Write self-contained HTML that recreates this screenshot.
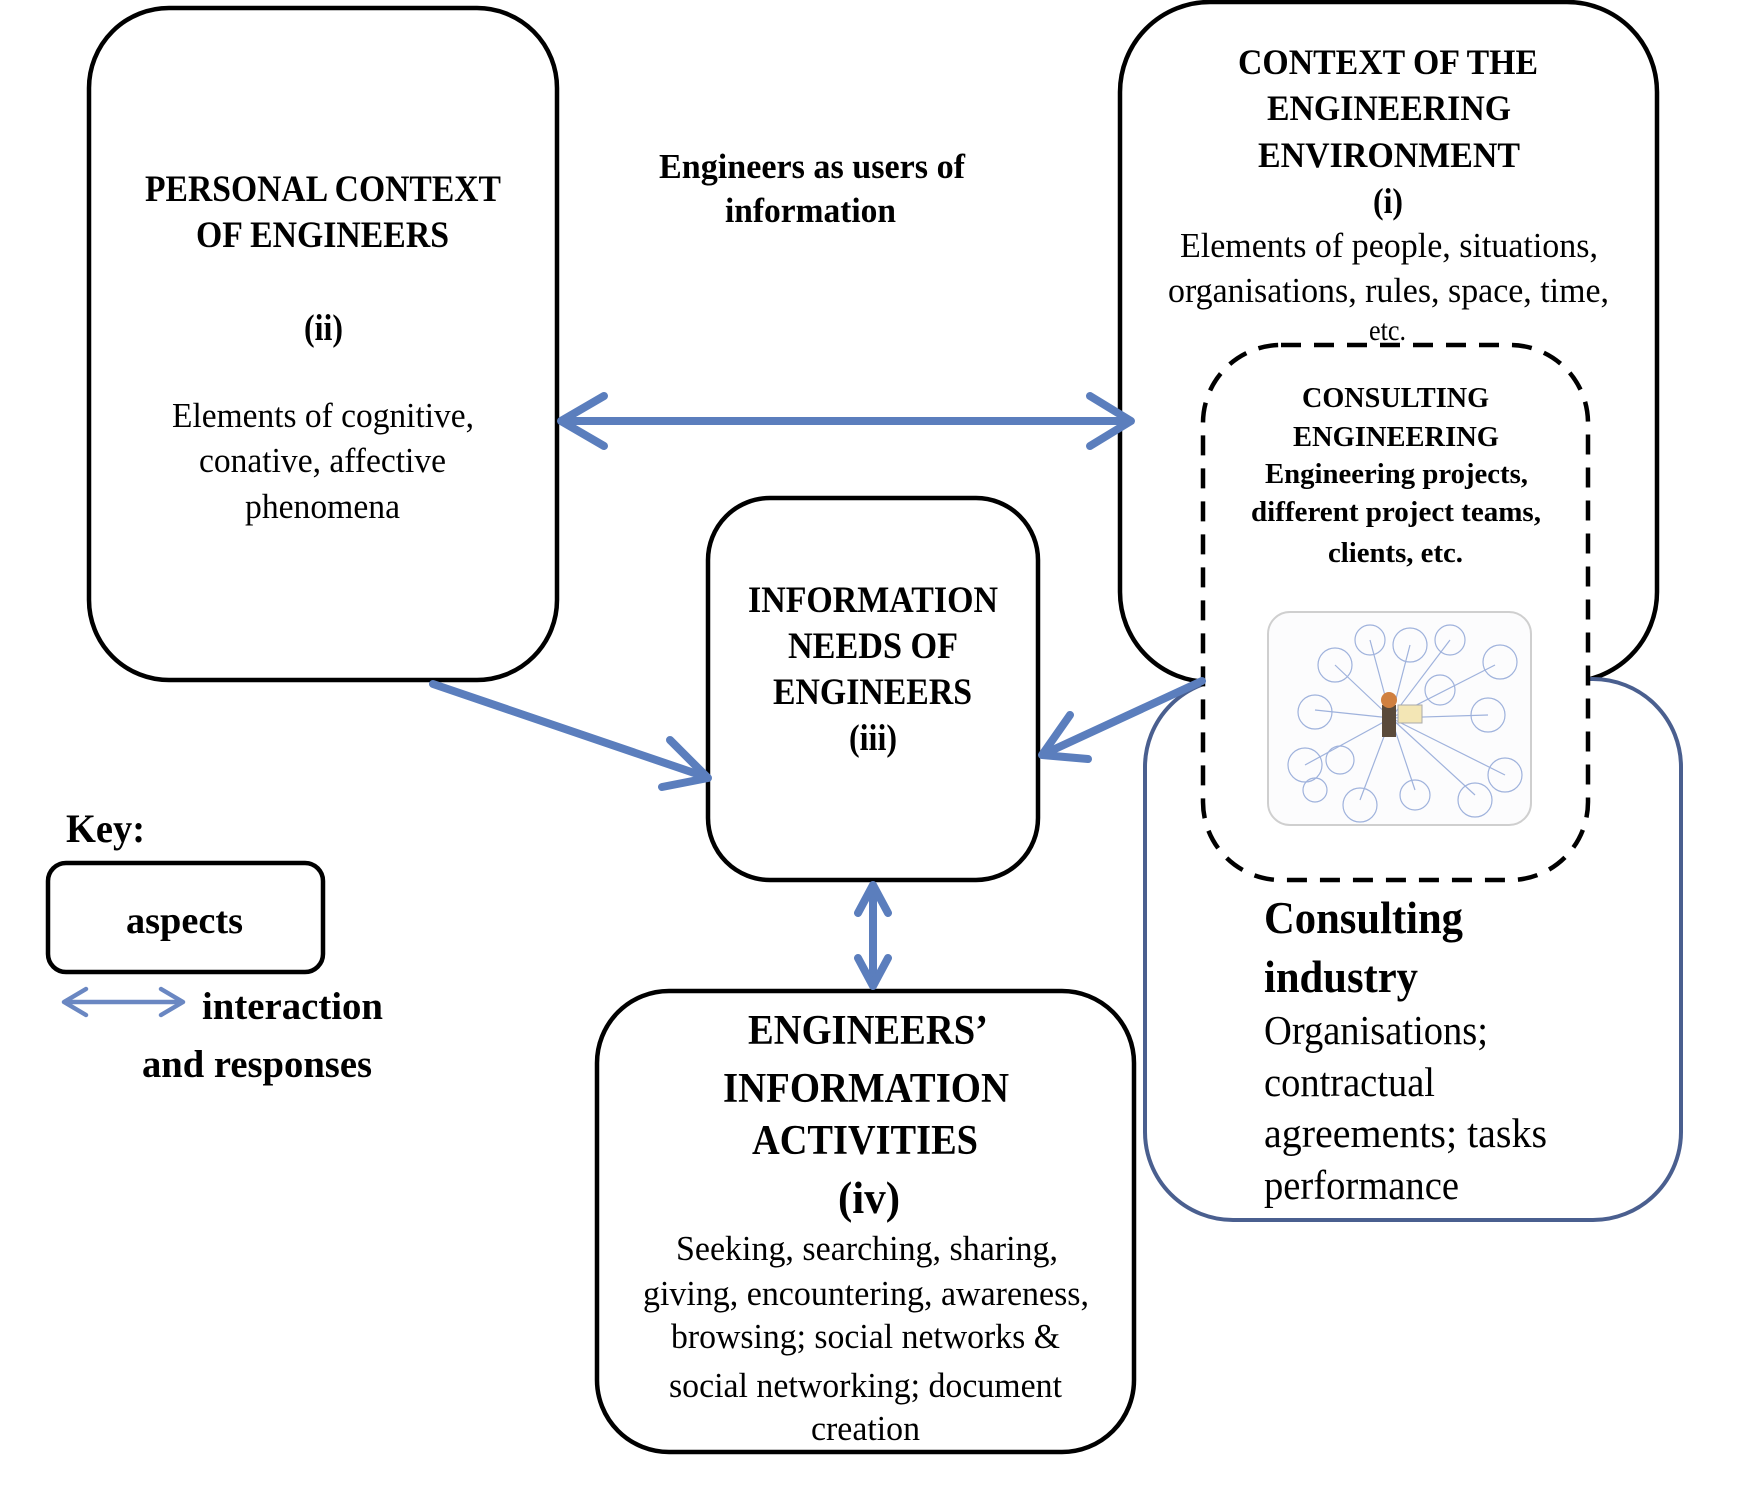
<!DOCTYPE html>
<html><head><meta charset="utf-8"><style>
html,body{margin:0;padding:0;background:#fff;}
svg{display:block;}
text{font-family:"Liberation Serif",serif;fill:#000;}
.b{font-weight:bold;}
</style></head><body>
<svg width="1745" height="1504" viewBox="0 0 1745 1504" xmlns="http://www.w3.org/2000/svg">
<!-- boxes -->
<rect x="89" y="8" width="468" height="672" rx="80" fill="#fff" stroke="#000" stroke-width="4.5"/>
<rect x="1120" y="2" width="537" height="680" rx="90" fill="#fff" stroke="#000" stroke-width="4.5"/>
<rect x="1145" y="679" width="536" height="541" rx="88" fill="#fff" stroke="#4a5f8f" stroke-width="4"/>
<rect x="1203" y="345" width="385" height="535" rx="78" fill="#fff" stroke="#000" stroke-width="4.5" stroke-dasharray="20,13"/>
<rect x="708" y="498" width="330" height="382" rx="62" fill="#fff" stroke="#000" stroke-width="4.5"/>
<rect x="597" y="991" width="537" height="461" rx="72" fill="#fff" stroke="#000" stroke-width="4.5"/>
<rect x="48" y="863" width="275" height="109" rx="18" fill="#fff" stroke="#000" stroke-width="4.5"/>

<!-- network image -->
<rect x="1268" y="612" width="263" height="213" rx="22" fill="#fcfcfd" stroke="#cfcfcf" stroke-width="2"/>
<g stroke="#9fb2dc" stroke-width="1.2" fill="none">
<line x1="1391" y1="718" x2="1335" y2="665"/><line x1="1391" y1="718" x2="1370" y2="640"/>
<line x1="1391" y1="718" x2="1410" y2="645"/><line x1="1391" y1="718" x2="1450" y2="640"/>
<line x1="1391" y1="718" x2="1495" y2="665"/><line x1="1391" y1="718" x2="1488" y2="715"/>
<line x1="1391" y1="718" x2="1505" y2="775"/><line x1="1391" y1="718" x2="1475" y2="795"/>
<line x1="1391" y1="718" x2="1415" y2="790"/><line x1="1391" y1="718" x2="1360" y2="800"/>
<line x1="1391" y1="718" x2="1305" y2="765"/><line x1="1391" y1="718" x2="1315" y2="710"/>
<circle cx="1335" cy="665" r="17"/><circle cx="1370" cy="640" r="15"/><circle cx="1410" cy="645" r="17"/>
<circle cx="1450" cy="640" r="15"/><circle cx="1500" cy="662" r="17"/><circle cx="1488" cy="715" r="17"/>
<circle cx="1505" cy="775" r="17"/><circle cx="1475" cy="800" r="17"/><circle cx="1415" cy="795" r="15"/>
<circle cx="1360" cy="805" r="17"/><circle cx="1305" cy="765" r="17"/><circle cx="1315" cy="712" r="17"/>
<circle cx="1315" cy="790" r="12"/><circle cx="1440" cy="690" r="15"/><circle cx="1340" cy="760" r="14"/>
</g>
<rect x="1382" y="705" width="14" height="32" fill="#5a4a3a"/>
<circle cx="1389" cy="700" r="8" fill="#d08040"/>
<rect x="1398" y="705" width="24" height="18" fill="#f3e6b5" stroke="#aaa" stroke-width="1"/>

<!-- arrows -->
<g stroke="#5b7ebd" stroke-width="8" fill="none" stroke-linecap="round" stroke-linejoin="round">
<line x1="562" y1="421" x2="1130" y2="421"/>
<polyline points="604,396 561,421 604,446"/>
<polyline points="1090,396 1131,421 1090,446"/>
<line x1="433" y1="684" x2="706" y2="777"/>
<polyline points="670,740 708,778 662,787"/>
<line x1="1202" y1="681" x2="1044" y2="754"/>
<polyline points="1070,715 1042,755 1088,759"/>
<line x1="873" y1="886" x2="873" y2="984"/>
<polyline points="858,913 873,885 888,913"/>
<polyline points="858,958 873,986 888,958"/>
</g>
<g stroke="#6a87c2" stroke-width="4.5" fill="none" stroke-linecap="round" stroke-linejoin="round">
<line x1="65" y1="1002" x2="182" y2="1002"/>
<polyline points="86,989 64,1002 86,1015"/>
<polyline points="161,989 183,1002 161,1015"/>
</g>

<!-- texts -->
<g lengthAdjust="spacingAndGlyphs">
<text class="b" x="145" y="201" font-size="37" textLength="356" lengthAdjust="spacingAndGlyphs">PERSONAL CONTEXT</text>
<text class="b" x="196" y="247" font-size="37" textLength="253" lengthAdjust="spacingAndGlyphs">OF ENGINEERS</text>
<text class="b" x="304" y="340" font-size="37" textLength="39" lengthAdjust="spacingAndGlyphs">(ii)</text>
<text x="172" y="427" font-size="35" textLength="302" lengthAdjust="spacingAndGlyphs">Elements of cognitive,</text>
<text x="199" y="472" font-size="35" textLength="247" lengthAdjust="spacingAndGlyphs">conative, affective</text>
<text x="245" y="518" font-size="35" textLength="155" lengthAdjust="spacingAndGlyphs">phenomena</text>

<text class="b" x="659" y="178" font-size="35" textLength="306" lengthAdjust="spacingAndGlyphs">Engineers as users of</text>
<text class="b" x="725" y="222" font-size="35" textLength="171" lengthAdjust="spacingAndGlyphs">information</text>

<text class="b" x="1238" y="74" font-size="36" textLength="300" lengthAdjust="spacingAndGlyphs">CONTEXT OF THE</text>
<text class="b" x="1267" y="120" font-size="36" textLength="244" lengthAdjust="spacingAndGlyphs">ENGINEERING</text>
<text class="b" x="1258" y="167" font-size="36" textLength="262" lengthAdjust="spacingAndGlyphs">ENVIRONMENT</text>
<text class="b" x="1373" y="213" font-size="36" textLength="30" lengthAdjust="spacingAndGlyphs">(i)</text>
<text x="1180" y="257" font-size="35" textLength="418" lengthAdjust="spacingAndGlyphs">Elements of people, situations,</text>
<text x="1168" y="302" font-size="35" textLength="441" lengthAdjust="spacingAndGlyphs">organisations, rules, space, time,</text>
<text x="1369" y="340" font-size="30" textLength="37" lengthAdjust="spacingAndGlyphs">etc.</text>

<text class="b" x="1302" y="407" font-size="29" textLength="187" lengthAdjust="spacingAndGlyphs">CONSULTING</text>
<text class="b" x="1293" y="446" font-size="29" textLength="206" lengthAdjust="spacingAndGlyphs">ENGINEERING</text>
<text class="b" x="1265" y="483" font-size="29" textLength="263" lengthAdjust="spacingAndGlyphs">Engineering projects,</text>
<text class="b" x="1251" y="521" font-size="29" textLength="290" lengthAdjust="spacingAndGlyphs">different project teams,</text>
<text class="b" x="1328" y="562" font-size="29" textLength="135" lengthAdjust="spacingAndGlyphs">clients, etc.</text>

<text class="b" x="748" y="612" font-size="37" textLength="250" lengthAdjust="spacingAndGlyphs">INFORMATION</text>
<text class="b" x="788" y="658" font-size="37" textLength="170" lengthAdjust="spacingAndGlyphs">NEEDS OF</text>
<text class="b" x="773" y="704" font-size="37" textLength="199" lengthAdjust="spacingAndGlyphs">ENGINEERS</text>
<text class="b" x="849" y="750" font-size="37" textLength="48" lengthAdjust="spacingAndGlyphs">(iii)</text>

<text class="b" x="748" y="1044" font-size="42" textLength="240" lengthAdjust="spacingAndGlyphs">ENGINEERS’</text>
<text class="b" x="723" y="1102" font-size="42" textLength="286" lengthAdjust="spacingAndGlyphs">INFORMATION</text>
<text class="b" x="752" y="1154" font-size="42" textLength="226" lengthAdjust="spacingAndGlyphs">ACTIVITIES</text>
<text class="b" x="838" y="1213" font-size="46" textLength="62" lengthAdjust="spacingAndGlyphs">(iv)</text>
<text x="676" y="1260" font-size="35" textLength="382" lengthAdjust="spacingAndGlyphs">Seeking, searching, sharing,</text>
<text x="643" y="1305" font-size="35" textLength="446" lengthAdjust="spacingAndGlyphs">giving, encountering, awareness,</text>
<text x="671" y="1348" font-size="35" textLength="389" lengthAdjust="spacingAndGlyphs">browsing; social networks &amp;</text>
<text x="669" y="1397" font-size="35" textLength="393" lengthAdjust="spacingAndGlyphs">social networking; document</text>
<text x="811" y="1440" font-size="35" textLength="109" lengthAdjust="spacingAndGlyphs">creation</text>

<text class="b" x="66" y="842" font-size="40" textLength="79" lengthAdjust="spacingAndGlyphs">Key:</text>
<text class="b" x="126" y="933" font-size="38" textLength="117" lengthAdjust="spacingAndGlyphs">aspects</text>
<text class="b" x="202" y="1019" font-size="39" textLength="181" lengthAdjust="spacingAndGlyphs">interaction</text>
<text class="b" x="142" y="1077" font-size="39" textLength="230" lengthAdjust="spacingAndGlyphs">and responses</text>

<text class="b" x="1264" y="933" font-size="46" textLength="199" lengthAdjust="spacingAndGlyphs">Consulting</text>
<text class="b" x="1264" y="992" font-size="46" textLength="154" lengthAdjust="spacingAndGlyphs">industry</text>
<text x="1264" y="1044" font-size="41" textLength="224" lengthAdjust="spacingAndGlyphs">Organisations;</text>
<text x="1264" y="1096" font-size="41" textLength="171" lengthAdjust="spacingAndGlyphs">contractual</text>
<text x="1264" y="1147" font-size="41" textLength="283" lengthAdjust="spacingAndGlyphs">agreements;  tasks</text>
<text x="1264" y="1199" font-size="41" textLength="195" lengthAdjust="spacingAndGlyphs">performance</text>
</g>
</svg>
</body></html>
